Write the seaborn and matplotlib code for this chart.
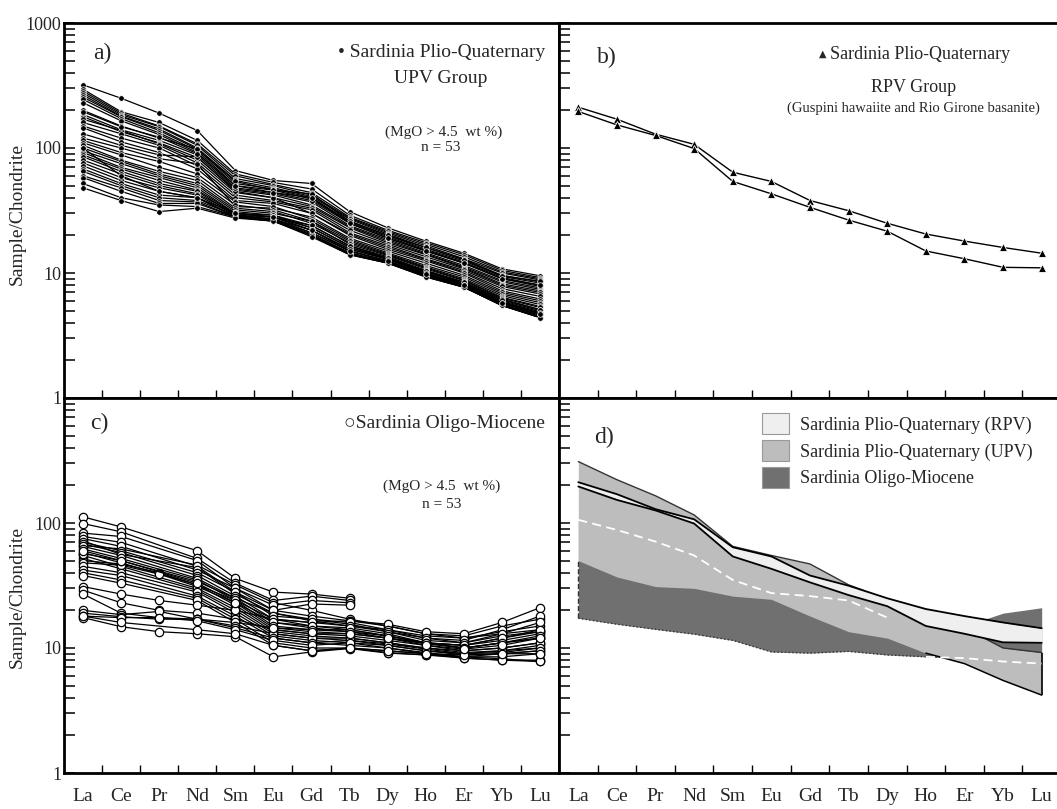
import numpy as np
import pandas as pd
import matplotlib
matplotlib.use("Agg")
import matplotlib.pyplot as plt
import seaborn as sns
from matplotlib.patches import Patch
from matplotlib.ticker import LogLocator, NullFormatter

nan = np.nan
elements = ["La", "Ce", "Pr", "Nd", "Sm", "Eu", "Gd", "Tb", "Dy", "Ho", "Er", "Yb", "Lu"]

# a) Sardinia Plio-Quaternary, UPV group (chondrite normalised)
upv_samples = [
    [320, 250, 190, 138, 66, 55, 52, 31, 23, 18, 14.4, 10.8, 9.5],
    [295, 195, 160, 115, 62, 53, 47, 29, 22, 17.5, 14, 10.5, 9.2],
    [285, 190, 150, 108, 60, 51, 44, 28, 21.5, 17, 13.5, 10.2, 9],
    [275, 185, 148, 105, 57, 50, 42, 27.5, 21, 16.5, 13, 10, 8.8],
    [265, 180, 142, 100, 55, 48, 41, 27, 20.5, 16, 12.8, 9.6, 8.5],
    [255, 178, 138, 98, 52, 47, 40, 26, 20, 15.5, 12.5, 9.4, 8.3],
    [245, 172, 132, 95, 50, 46, 39, 25.5, 19.5, 15.2, 12.2, 9.2, 8],
    [230, 165, 128, 92, 48, 44, 38, 25, 19, 15, 12, 9, 7.8],
    [200, 150, 120, 98, 54, 46, 43, 26, 20, 16, 12.8, 9.5, 8.6],
    [195, 148, 122, 90, 50, 44, 40, 25, 19, 15, 12, 9, 8],
    [185, 140, 115, 88, 47, 43, 37, 24, 18.5, 14.5, 11.5, 8.7, 7.6],
    [178, 135, 110, 84, 46, 42, 35, 23.5, 18, 14.2, 11.2, 8.5, 7.4],
    [170, 138, 108, 80, 44, 40, 34, 23, 17.5, 14, 11, 8.2, 7.2],
    [160, 130, 105, 76, 42, 38, 33, 22, 17, 13.5, 10.8, 8, 7],
    [150, 120, 100, 72, 40, 37, 32, 21, 16.5, 13, 10.5, 7.8, 6.8],
    [145, 112, 92, 68, 38, 36, 30, 20.5, 16, 12.8, 10.2, 7.5, 6.5],
    [130, 105, 88, 85, 45, 40, 30, 20, 15.5, 12.5, 10, 7.2, 6.2],
    [120, 100, 82, 75, 34, 33, 28, 19, 15, 12, 9.6, 7, 6],
    [115, 92, 78, 62, 37, 34, 27, 18.5, 14.5, 11.5, 9.3, 6.8, 5.8],
    [110, 88, 70, 58, 35, 32, 26, 18, 14.2, 11.2, 9, 6.6, 5.6],
    [105, 80, 65, 55, 33, 31, 25, 17.5, 14, 11, 8.8, 6.4, 5.4],
    [100, 78, 62, 52, 32, 30, 26, 17, 13.8, 10.8, 8.7, 6.3, 5.3],
    [95, 75, 60, 50, 31, 29, 24, 16.5, 13.5, 10.5, 8.5, 6.2, 5.1],
    [92, 70, 58, 48, 30, 29, 23, 16, 13.2, 10.3, 8.3, 6, 5],
    [88, 68, 55, 46, 30, 28, 22, 15.5, 13, 10.2, 8.2, 5.9, 4.9],
    [85, 65, 52, 45, 29, 28, 23, 16, 13, 10, 8.1, 5.8, 4.8],
    [80, 62, 50, 43, 30, 28, 24, 16.5, 13.2, 10.4, 8.4, 6.1, 5.1],
    [76, 58, 48, 42, 29, 27, 21, 15, 12.5, 9.8, 8, 5.7, 4.7],
    [72, 55, 45, 40, 28.5, 27, 21, 15, 12.4, 9.7, 7.9, 5.6, 4.6],
    [68, 52, 42, 40, 28, 26.5, 20, 14.5, 12.2, 9.5, 7.8, 5.5, 4.5],
    [65, 50, 40, 38, 29, 27, 22, 15.5, 12.8, 10, 8, 5.8, 4.8],
    [60, 48, 38, 37, 28, 26.5, 20.5, 14.5, 12.2, 9.6, 7.8, 5.6, 4.6],
    [58, 45, 36, 36, 28, 26, 20, 14.2, 12, 9.4, 7.7, 5.5, 4.4],
    [52, 40, 35, 34, 28, 26, 20, 14, 12, 9.3, 7.7, 5.5, 4.4],
    [48, 38, 31, 33, 27.5, 26, 19.5, 14, 12, 9.3, 7.7, 5.5, 4.4],
    [100, 60, 45, 40, 30, 28, 22, 15, 12.5, 9.8, 8, 5.8, 4.7],
]

# b) RPV group
guspini = [212, 170, 129, 107, 64, 54, 38, 31.5, 25, 20.5, 18, 16, 14.4]
rio_girone = [196, 153, 126, 99, 54, 43, 33.5, 26.5, 21.6, 15, 13, 11.1, 11]

# c) Sardinia Oligo-Miocene
om_samples = [
    [112, 93, nan, 60, 36, 28, 27, 25, nan, nan, nan, nan, nan],
    [99, 85, nan, 52, 33, 24, 26, 24, nan, nan, nan, nan, nan],
    [83, 78, nan, 50, 30, 22, 24, 23, nan, nan, nan, nan, nan],
    [78, 70, nan, 45, 28, 20, 22.5, 22, nan, nan, nan, nan, nan],
    [75, 65, nan, 42, 30, 20, 18, 16.5, 15.5, 13.5, 13, 16, 21],
    [70, 60, nan, 40, 28, 18, 17, 16, 14, 12, 11.5, 14, 18],
    [68, 58, nan, 38, 26, 17, 16, 15, 13.5, 11.5, 11, 13, 16],
    [65, 55, nan, 36, 25, 16, 15, 14.5, 13, 11, 10.5, 12, 14],
    [62, 52, nan, 35, 24, 15, 14, 13.5, 12.5, 11, 10, 11, 12.5],
    [60, 50, nan, 33, 23, 14.5, 13.5, 13, 12, 10.5, 9.8, 10.5, 12],
    [58, 48, nan, 32, 22, 14, 13, 12.5, 11.5, 10.5, 9.5, 10, 11],
    [55, 45, nan, 30, 21, 13.5, 12.5, 12, 11, 10, 9.2, 9.5, 10.5],
    [52, 43, nan, 29, 20, 13, 12, 11.5, 10.8, 9.8, 9, 9.2, 10],
    [50, 47, 40, 32, 24, 17, 15, 14, 12.5, 11, 10.5, 11.5, 13],
    [48, 46, 39, 31, 23, 16, 14.5, 13.5, 12, 10.8, 10, 11, 12],
    [45, 40, nan, 28, 19, 12.5, 11.5, 11, 10.5, 9.5, 8.8, 9, 9.5],
    [42, 38, nan, 26, 18, 12, 11, 10.5, 10, 9.2, 8.5, 8.5, 9],
    [40, 35, nan, 25, 17, 11, 10, 10, 9.5, 9, 8.3, 8, 8],
    [38, 33, nan, 24, 16, 10.5, 9.5, 10, 9.2, 8.8, 8.5, 8.2, 7.8],
    [66, 62, nan, 46, 32, 23, 20, 17, 15, 13, 12.5, 15, 17],
    [72, 56, nan, 44, 27, 19, 16.5, 15, 14, 12.5, 12, 13.5, 15],
    [57, 50, nan, 34, 25, 19, 17, 15.5, 13.5, 12, 11, 12.5, 13.5],
    [31, 27, 24, 22, 20, 17, 16, 16.5, 15, 13, 12, 13, 14],
    [29, 23, 20, 19, 17, 14, 13, 13, 12, 11, 10, 11, 12],
    [27, 19, 17.5, 17, 16, 14.5, 14, 14, 12.5, 11, 10.5, 12, 13.5],
    [20, 18.5, 19.6, 17, 15, 13, 12, 12, 11, 10, 9.5, 10, 11],
    [19, 17.8, 17, 17, 14.5, 12, 11, 11.5, 10.5, 9.5, 9, 9.5, 10],
    [18, 17.5, 17.5, 16.5, 14, 11.5, 10.5, 11, 10, 9, 8.5, 9, 9.5],
    [17.5, 14.8, 13.5, 13, 12.3, 8.5, 9.3, 9.9, 9.1, 8.8, 8.3, 8, 7.8],
    [18, 16, nan, 14, 13, 10.5, 9.5, 10, 9.5, 9, 8.8, 9, 9],
]

# d) envelopes
upv_top = [310, 222, 165, 116, 65, 55, 47, 32, 24.5, 19.5, 14.5, 10, 9.2]
upv_bottom = [50, 37, 31, 30, 26, 24.5, 18, 13.5, 12, 9.1, 7.5, 5.5, 4.2]
om_top = [106, 88, 71, 55, 35, 27.5, 26, 24, 17.5, 14.5, 15, 19, 21]
om_bottom = [17.3, 15.5, 14.1, 12.9, 11.5, 9.3, 9.1, 9.4, 8.8, 8.5, 8.3, 7.8, 7.5]


def long_table(rows, prefix):
    recs = []
    for i, row in enumerate(rows):
        for j, v in enumerate(row):
            if not np.isnan(v):
                recs.append((f"{prefix}{i}", j, v))
    return pd.DataFrame(recs, columns=["sample", "pos", "value"])


sns.set_theme(style="ticks")
plt.rcParams["font.family"] = ["Liberation Serif", "DejaVu Sans"]

fig = plt.figure(figsize=(10.57, 8.09), dpi=100)
xl, wl = 64 / 1057, 495 / 1057
xr, wr = 559 / 1057, 502 / 1057
yt, yb, h = 1 - 398 / 809, 1 - 773 / 809, 375 / 809
ax_a = fig.add_axes([xl, yt, wl, h])
ax_b = fig.add_axes([xr, yt, wr, h])
ax_c = fig.add_axes([xl, yb, wl, h])
ax_d = fig.add_axes([xr, yb, wr, h])
pos = np.arange(len(elements))


def style(ax, ylabels=None, xlabels=False):
    ax.set_yscale("log")
    ax.set_ylim(1, 1000)
    ax.set_xlim(-0.5, 12.5)
    ax.set_xticks(pos[:-1] + 0.5)
    ax.set_xticklabels([])
    ax.set_xticks(pos, minor=True)
    ax.set_xticklabels(elements if xlabels else [""] * len(elements), minor=True)
    ax.tick_params(axis="x", which="major", direction="in", length=6, width=1, color="black")
    ax.tick_params(axis="x", which="minor", length=0, pad=11, labelsize=14)
    ax.set_yticks([1, 10, 100, 1000])
    ax.set_yticklabels(ylabels if ylabels else [""] * 4)
    ax.yaxis.set_minor_locator(LogLocator(base=10, subs=np.arange(2, 10)))
    ax.yaxis.set_minor_formatter(NullFormatter())
    ax.tick_params(axis="y", which="both", direction="in", length=8, width=1.1,
                   labelsize=13, pad=2, color="black")
    for s in ax.spines.values():
        s.set_linewidth(2)
        s.set_color("black")
    ax.set_xlabel("")
    ax.set_ylabel("")
    ax.set_facecolor("white")


# a)
sns.lineplot(data=long_table(upv_samples, "u"), x="pos", y="value", units="sample",
             estimator=None, color="black", lw=0.9, marker="o", markersize=4,
             markeredgecolor="white", markeredgewidth=0.5, legend=False, ax=ax_a)
style(ax_a, ["1", "10", "100", "1000"])
ax_a.set_ylabel("Sample/Chondrite", fontsize=14)
ax_a.yaxis.set_label_coords(-0.077, 0.49)
ax_a.text(0.059, 0.92, "a)", fontsize=17, va="center", transform=ax_a.transAxes)
ax_a.text(0.972, 0.922, "• Sardinia Plio-Quaternary", fontsize=14, ha="right", va="center",
          transform=ax_a.transAxes)
ax_a.text(0.76, 0.853, "UPV Group", fontsize=14, ha="center", va="center", transform=ax_a.transAxes)
ax_a.text(0.766, 0.709, "(MgO > 4.5  wt %)", fontsize=11, ha="center", va="center",
          transform=ax_a.transAxes)
ax_a.text(0.76, 0.667, "n = 53", fontsize=11, ha="center", va="center", transform=ax_a.transAxes)

# b)
rpv = pd.DataFrame({"pos": np.concatenate([pos, pos]),
                    "value": guspini + rio_girone,
                    "sample": ["Guspini"] * 13 + ["Rio Girone"] * 13})
sns.lineplot(data=rpv, x="pos", y="value", units="sample", estimator=None, color="black",
             lw=1.0, marker="^", markersize=6, markeredgecolor="white", markeredgewidth=0.6,
             legend=False, ax=ax_b)
style(ax_b)
ax_b.text(0.076, 0.909, "b)", fontsize=17, va="center", transform=ax_b.transAxes)
ax_b.text(0.898, 0.915, "Sardinia Plio-Quaternary", fontsize=13, ha="right", va="center",
          transform=ax_b.transAxes)
ax_b.text(0.525, 0.918, "▲", fontsize=7, ha="center", va="center", transform=ax_b.transAxes,
          family=["DejaVu Sans"])
ax_b.text(0.707, 0.829, "RPV Group", fontsize=13, ha="center", va="center", transform=ax_b.transAxes)
ax_b.text(0.707, 0.773, "(Guspini hawaiite and Rio Girone basanite)", fontsize=10.5,
          ha="center", va="center", transform=ax_b.transAxes)

# c)
sns.lineplot(data=long_table(om_samples, "o"), x="pos", y="value", units="sample",
             estimator=None, color="black", lw=0.9, marker="o", markersize=6,
             markerfacecolor="white", markeredgecolor="black", markeredgewidth=0.9,
             legend=False, ax=ax_c)
style(ax_c, ["1", "10", "100", ""], xlabels=True)
ax_c.set_ylabel("Sample/Chondrite", fontsize=14)
ax_c.yaxis.set_label_coords(-0.077, 0.47)
ax_c.text(0.053, 0.931, "c)", fontsize=17, va="center", transform=ax_c.transAxes)
ax_c.text(0.972, 0.931, "○Sardinia Oligo-Miocene", fontsize=14, ha="right", va="center",
          transform=ax_c.transAxes)
ax_c.text(0.762, 0.765, "(MgO > 4.5  wt %)", fontsize=11, ha="center", va="center",
          transform=ax_c.transAxes)
ax_c.text(0.762, 0.717, "n = 53", fontsize=11, ha="center", va="center", transform=ax_c.transAxes)

# d)
dark, mid, light = "#707070", "#bdbdbd", "#efefef"
ax_d.fill_between(pos, om_bottom, om_top, color=dark, lw=0, zorder=1)
ax_d.plot(pos, om_bottom, color="#333333", lw=1, ls=":", zorder=1.5)
ax_d.vlines(pos[0], om_bottom[0], upv_bottom[0], color="#333333", lw=1, ls="--", zorder=1.5)
ax_d.fill_between(pos, upv_bottom, upv_top, color=mid, lw=0, zorder=2)
ax_d.plot(pos, upv_top, color="#333333", lw=1.0, zorder=2.5)
ax_d.plot(pos[9:], upv_bottom[9:], color="black", lw=1.1, zorder=2.5)
ax_d.vlines(pos[-1], upv_bottom[-1], upv_top[-1], color="black", lw=1.2, zorder=2.5)
ax_d.plot(pos[:9], om_top[:9], color="white", lw=1.3, ls=(0, (5, 3)), zorder=2.6)
ax_d.plot(pos[9:], om_bottom[9:], color="white", lw=1.3, ls=(0, (5, 3)), zorder=2.6)
ax_d.fill_between(pos, rio_girone, guspini, color=light, lw=0, zorder=3)
ax_d.plot(pos, guspini, color="black", lw=1.3, zorder=3.5)
ax_d.plot(pos, rio_girone, color="black", lw=1.3, zorder=3.5)
style(ax_d, xlabels=True)
ax_d.text(0.07, 0.896, "d)", fontsize=17, va="center", transform=ax_d.transAxes)
handles = [Patch(facecolor=light, edgecolor="#999999", lw=0.8, label="Sardinia Plio-Quaternary (RPV)"),
           Patch(facecolor=mid, edgecolor="#999999", lw=0.8, label="Sardinia Plio-Quaternary (UPV)"),
           Patch(facecolor=dark, edgecolor="#999999", lw=0.8, label="Sardinia Oligo-Miocene")]
ax_d.legend(handles=handles, loc="upper left", bbox_to_anchor=(0.405, 0.96), frameon=False,
            fontsize=13, handlelength=1.5, handleheight=1.45, handletextpad=0.6,
            labelspacing=0.3, borderpad=0, borderaxespad=0)

fig.savefig("out.png", dpi=100, facecolor="white")
